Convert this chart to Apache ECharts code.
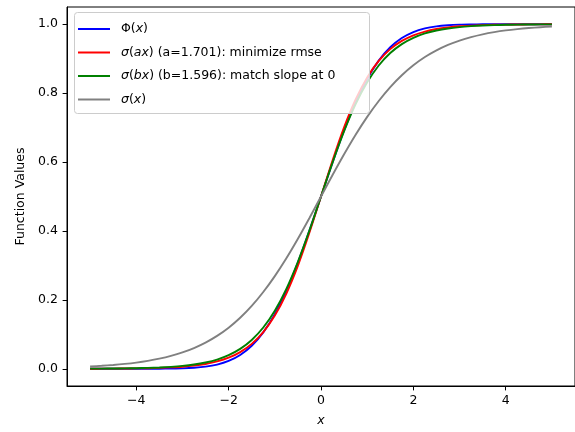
<!DOCTYPE html>
<html>
<head>
<meta charset="utf-8">
<script src="https://cdn.jsdelivr.net/npm/echarts@6/dist/echarts.min.js"></script>
<style>html,body{margin:0;padding:0;background:#fff}#c{width:575px;height:432px}</style>
</head>
<body>
<div id="c"></div>
<script>
// x positions (step 0.25)
var xs = [-5,-4.75,-4.5,-4.25,-4,-3.75,-3.5,-3.25,-3,-2.75,-2.5,-2.25,-2,-1.75,-1.5,-1.25,-1,-0.75,-0.5,-0.25,0,
  0.25,0.5,0.75,1,1.25,1.5,1.75,2,2.25,2.5,2.75,3,3.25,3.5,3.75,4,4.25,4.5,4.75,5];
var phiVals = [0.0000,0.0000,0.0000,0.0000,0.0000,0.0001,0.0002,0.0006,0.0013,0.0030,0.0062,0.0122,0.0228,0.0401,0.0668,0.1056,0.1587,0.2266,0.3085,0.4013,0.5000,
  0.5987,0.6915,0.7734,0.8413,0.8944,0.9332,0.9599,0.9772,0.9878,0.9938,0.9970,0.9987,0.9994,0.9998,0.9999,1.0000,1.0000,1.0000,1.0000,1.0000];
var sigAVals = [0.0002,0.0003,0.0005,0.0007,0.0011,0.0017,0.0026,0.0040,0.0060,0.0092,0.0140,0.0213,0.0322,0.0485,0.0723,0.1066,0.1543,0.2183,0.2993,0.3953,0.5000,
  0.6047,0.7007,0.7817,0.8457,0.8934,0.9277,0.9515,0.9678,0.9787,0.9860,0.9908,0.9940,0.9960,0.9974,0.9983,0.9989,0.9993,0.9995,0.9997,0.9998];
var sigBVals = [0.0003,0.0005,0.0008,0.0011,0.0017,0.0025,0.0037,0.0056,0.0083,0.0123,0.0182,0.0268,0.0395,0.0577,0.0836,0.1197,0.1685,0.2320,0.3105,0.4015,0.5000,
  0.5985,0.6896,0.7680,0.8315,0.8803,0.9164,0.9423,0.9605,0.9732,0.9818,0.9877,0.9917,0.9944,0.9963,0.9975,0.9983,0.9989,0.9992,0.9995,0.9997];
var sigVals = [0.0067,0.0086,0.0110,0.0141,0.0180,0.0230,0.0293,0.0373,0.0474,0.0601,0.0759,0.0954,0.1192,0.1480,0.1824,0.2227,0.2689,0.3208,0.3775,0.4378,0.5000,
  0.5622,0.6225,0.6792,0.7311,0.7773,0.8176,0.8520,0.8808,0.9047,0.9241,0.9399,0.9526,0.9627,0.9707,0.9770,0.9820,0.9859,0.9890,0.9914,0.9933];
var seriesNames = ['Φ(x)', 'σ(ax) (a=1.701): minimize rmse', 'σ(bx) (b=1.596): match slope at 0', 'σ(x)'];
var seriesRich = ['Φ({i|x})', '{i|σ}({i|ax}) (a=1.701): minimize rmse', '{i|σ}({i|bx}) (b=1.596): match slope at 0', '{i|σ}({i|x})'];
var seriesColors = ['#0000ff', '#ff0000', '#008000', '#808080'];
var xTicks = [-4, -2, 0, 2, 4];
var yTicks = [0, 0.2, 0.4, 0.6, 0.8, 1.0];

var allVals = [phiVals, sigAVals, sigBVals, sigVals];
function pairs(v){ return xs.map(function(x,i){ return [x, v[i]]; }); }
var FONT = 'DejaVu Sans';
var chart = echarts.init(document.getElementById('c'), null, {renderer:'canvas'});
chart.setOption({
  animation: false,
  backgroundColor: '#fff',
  textStyle: {fontFamily: FONT},
  grid: {left: 67, top: 7, width: 508, height: 379, show: true, borderColor: '#000', borderWidth: 1, containLabel: false},
  graphic: [{
    type: 'rect', left: 74, top: 12, z: 10, zlevel: 0,
    shape: {width: 295, height: 101, r: 3},
    style: {fill: 'rgba(255,255,255,0.8)', stroke: '#cccccc', lineWidth: 1}
  }],
  xAxis: {
    type: 'value', min: -5.5, max: 5.5,
    name: 'x', nameLocation: 'middle', nameGap: 28,
    nameTextStyle: {fontFamily: FONT, fontSize: 12.5, fontStyle: 'italic', color: '#000'},
    axisLine: {show: true, onZero: false, lineStyle: {color: '#000', width: 1}},
    axisTick: {show: true, length: 4.4, lineStyle: {color: '#000'}, customValues: xTicks},
    axisLabel: {fontFamily: FONT, fontSize: 12.5, color: '#000', margin: 8, customValues: xTicks,
      formatter: function(v){ return v < 0 ? '\u2212' + Math.abs(v) : String(v); }},
    splitLine: {show: false}
  },
  yAxis: {
    type: 'value', min: -0.05, max: 1.05,
    name: 'Function Values', nameLocation: 'middle', nameGap: 40,
    nameTextStyle: {fontFamily: FONT, fontSize: 12.5, color: '#000'},
    axisLine: {show: true, onZero: false, lineStyle: {color: '#000', width: 1}},
    axisTick: {show: true, length: 4.4, lineStyle: {color: '#000'}, customValues: yTicks},
    axisLabel: {fontFamily: FONT, fontSize: 12.5, color: '#000', margin: 9, customValues: yTicks,
      formatter: function(v){ return v.toFixed(1); }},
    splitLine: {show: false}
  },
  legend: {
    orient: 'vertical', left: 74, top: 12, z: 20,
    data: seriesNames,
    icon: 'rect', itemWidth: 32, itemHeight: 2, itemGap: 7.5,
    padding: [9, 6, 4, 4],
    formatter: function(name){ return seriesRich[seriesNames.indexOf(name)]; },
    textStyle: {fontFamily: FONT, fontSize: 12.5, color: '#000', lineHeight: 16, padding: [0,0,0,6],
      rich: {i: {fontFamily: FONT, fontSize: 12.5, fontStyle: 'italic', color: '#000', lineHeight: 16}}}
  },
  series: allVals.map(function(v, k){
    return {
      name: seriesNames[k], type: 'line', data: pairs(v), smooth: 0.3, showSymbol: false, symbol: 'none',
      lineStyle: {color: seriesColors[k], width: 1.9}, itemStyle: {color: seriesColors[k]}, z: 2 + k
    };
  })
});
</script>
</body>
</html>
